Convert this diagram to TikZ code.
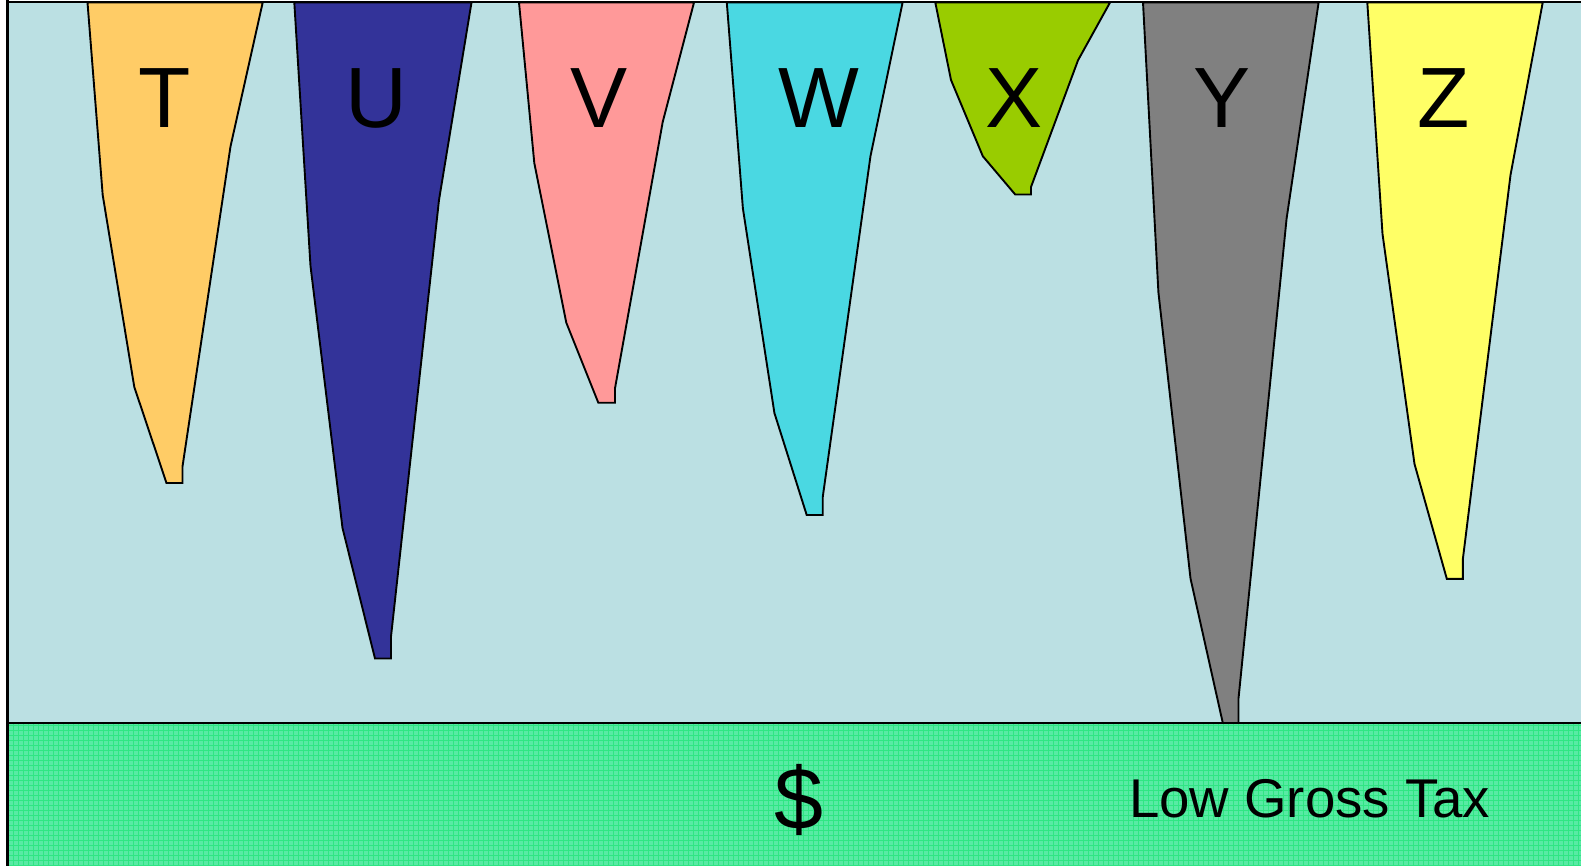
\documentclass[tikz,border=0pt]{standalone}
\usepackage{fontspec}
\setmainfont{Liberation Sans}
\definecolor{bgblue}{HTML}{BBE0E3}
\definecolor{cT}{HTML}{FFCC66}
\definecolor{cU}{HTML}{333399}
\definecolor{cV}{HTML}{FF9999}
\definecolor{cW}{HTML}{4AD8E2}
\definecolor{cX}{HTML}{99CC00}
\definecolor{cY}{HTML}{808080}
\definecolor{cZ}{HTML}{FFFF66}
\definecolor{bandbase}{HTML}{58EAA4}
\definecolor{bandline}{HTML}{2FE683}
\tikzset{
  spike/.style={draw=black, line width=1.9pt, line join=miter},
  lbl/.style={inner sep=0pt, anchor=base, font=\fontsize{85.6}{90}\selectfont},
  bandtext/.style={inner sep=0pt, anchor=base west, font=\fontsize{54.6}{60}\selectfont},
}
\begin{document}
\begin{tikzpicture}[x=1pt,y=-1pt]
\useasboundingbox (0,0) rectangle (1581,865);
\clip (0,0) rectangle (1581,865);
\fill[white] (0,0) rectangle (1581,865);
\fill[bgblue] (7.3,2.3) rectangle (1590,870);
% spikes
\filldraw[spike, fill=cT] (87.5,2.5) -- (102.7,195) -- (134.3,387) -- (166.5,483) -- (182.5,483) -- (182.5,466.5) -- (230.5,146.5) -- (262.7,2.5) -- cycle;
\filldraw[spike, fill=cU] (294.3,2.5) -- (310.5,266) -- (342.5,528) -- (375,658.5) -- (391,658.5) -- (391,636.5) -- (439,200) -- (471.5,2.5) -- cycle;
\filldraw[spike, fill=cV] (519,2.5) -- (534.3,163) -- (566.3,322.7) -- (598.3,402.7) -- (615,402.7) -- (615,388.3) -- (662.7,122) -- (694,2.5) -- cycle;
\filldraw[spike, fill=cW] (726.8,2.5) -- (742.9,208.5) -- (774.4,413) -- (806.7,515) -- (822.7,515) -- (822.7,497.3) -- (870.5,156) -- (902.6,2.5) -- cycle;
\filldraw[spike, fill=cX] (935.3,2.5) -- (951,80) -- (982.8,156.2) -- (1015.2,194.5) -- (1031,194.5) -- (1031,187) -- (1078,60.3) -- (1110,2.5) -- cycle;
\filldraw[spike, fill=cY] (1143,2.5) -- (1158.4,292.3) -- (1190.5,578.5) -- (1222.8,723) -- (1238.5,723) -- (1238.5,698.5) -- (1286.6,218.5) -- (1318.6,2.5) -- cycle;
\filldraw[spike, fill=cZ] (1367.3,2.5) -- (1382.5,234) -- (1414.5,464) -- (1446.8,578.8) -- (1462.8,578.8) -- (1462.8,559.5) -- (1510.5,175) -- (1542.7,2.5) -- cycle;
% labels
\node[lbl] (lT) at (164.3,127.3) {T};
\node[lbl] (lU) at (376.5,127.3) {U};
\node[lbl] (lV) at (599,127.3) {V};
\node[lbl] (lW) at (818.7,127.3) {W};
\node[lbl] (lX) at (1014.4,127.3) {X};
\node[lbl] (lY) at (1222.5,127.3) {Y};
\node[lbl] (lZ) at (1444,127.3) {Z};
% band
\fill[bandbase] (7.3,723) rectangle (1590,870);
\begin{scope}
\clip (7.3,723) rectangle (1590,870);
\foreach \i in {0,...,318} {
  \draw[bandline, line width=0.9pt] ({8+5*\i},723) -- ({8+5*\i},870);
}
\foreach \j in {0,...,30} {
  \draw[bandline, line width=0.9pt] (7.3,{725+5*\j}) -- (1590,{725+5*\j});
}
\end{scope}
\draw[black, line width=2.4pt] (7.3,723) -- (1590,723);
% borders
\draw[black, line width=2.4pt] (7.3,0) -- (7.3,870);
\draw[black, line width=2.4pt] (6.2,2) -- (1590,2);
% band texts
\node[lbl, font=\fontsize{88}{92}\selectfont] (dollar) at (798.6,829) {\$};
\node[bandtext] (lgt) at (1129,817) {Low Gross Tax};
\end{tikzpicture}
\end{document}
